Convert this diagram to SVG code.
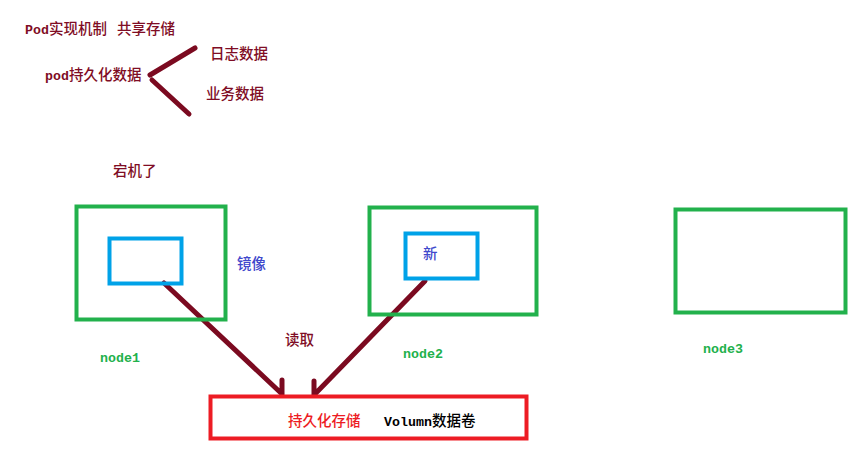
<svg xmlns="http://www.w3.org/2000/svg" width="865" height="466" viewBox="0 0 865 466">
<style>
text{font-family:"Noto Sans CJK SC","DejaVu Sans",sans-serif;font-size:14.500px;font-weight:500}
.m{font-family:"Liberation Mono","Noto Sans CJK SC",monospace;font-size:13.300px;font-weight:700}
.d{fill:#7f0d25}.g{fill:#22b14c}.b{fill:#3f48cc}
.box{fill:none;stroke-width:4}
.ln{fill:none;stroke:#7b0a20;stroke-width:5;stroke-linecap:round;stroke-linejoin:round}
</style>
<rect width="865" height="466" fill="#fff"/>
<g id="connectors">
<path class="ln" d="M150 75L195 48M152 80L189 114"/>
<path class="ln" d="M164 283L282 394M282 380V394"/>
<path class="ln" d="M425 281L314 395M314 381V395"/>
</g>
<g id="title"><text x="25" y="34" class="d"><tspan class="m">Pod</tspan>实现机制<tspan x="117">共享存储</tspan></text></g>
<g id="pod-data"><text x="45" y="80" class="d"><tspan class="m">pod</tspan>持久化数据</text></g>
<g id="log-data"><text x="210" y="59" class="d">日志数据</text></g>
<g id="biz-data"><text x="206" y="99" class="d">业务数据</text></g>
<g id="down-label"><text x="113" y="176" class="d">宕机了</text></g>
<g id="node1">
<rect class="box" x="76.500" y="206.500" width="149" height="113" stroke="#22b14c"/>
<rect class="box" x="109.500" y="238.500" width="72" height="45" stroke="#00a2e8"/>
<text x="100" y="362" class="m g">node1</text>
</g>
<g id="image-label"><text x="237" y="269" class="b">镜像</text></g>
<g id="read-label"><text x="285" y="345" class="d">读取</text></g>
<g id="node2">
<rect class="box" x="369.500" y="207.500" width="167" height="107" stroke="#22b14c"/>
<rect class="box" x="405.500" y="233.500" width="72" height="45" stroke="#00a2e8"/>
<text x="423" y="259" class="b">新</text>
<text x="403" y="358" class="m g">node2</text>
</g>
<g id="node3">
<rect class="box" x="675.500" y="209.500" width="170" height="103" stroke="#22b14c"/>
<text x="703" y="353" class="m g">node3</text>
</g>
<g id="storage">
<rect class="box" x="210.500" y="396.500" width="316" height="42" stroke="#ed1c24"/>
<text x="288" y="426" fill="#ed1c24">持久化存储</text>
<text x="384" y="426" fill="#000"><tspan class="m">Volumn</tspan>数据卷</text>
</g>
</svg>
